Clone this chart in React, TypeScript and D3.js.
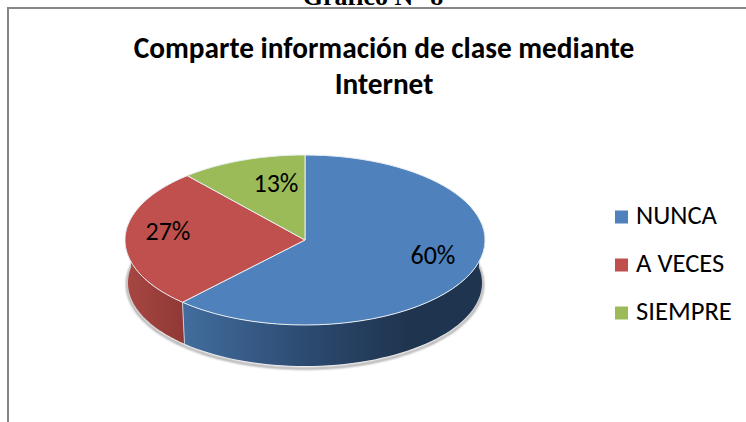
import React from "react";
import * as d3 from "d3";

const categories = ["NUNCA", "A VECES", "SIEMPRE"];
const values = [60, 27, 13];
const labels = ["60%", "27%", "13%"];
const colors = ["#4f81bd", "#c0504d", "#9bbb59"];
const titleLines = ["Comparte información de clase mediante", "Internet"];
const labelPos: [number, number][] = [[433, 258], [168, 234], [276, 186]];
const legendY = [217, 265, 313];

const font = "Carlito, Calibri, Lato, 'Open Sans', 'Noto Sans', sans-serif";
const cx = 305, cy = 240, rx = 180, ry = 85;
const bcy = 283, brx = 177, bry = 83;
const deg = Math.PI / 180;

const warp = (t: number) => t - 9.83 * deg * Math.sin(t) + 1.18 * deg * Math.sin(2 * t);
const pt = (t: number, x0 = cx, y0 = cy, a = rx, b = ry): [number, number] => {
  const w = warp(t);
  return [x0 + a * Math.sin(w), y0 - b * Math.cos(w)];
};
const steps = (a: number, b: number) => d3.range(0, 61).map(i => a + (b - a) * i / 60);

const line = d3.line<[number, number]>().x(d => d[0]).y(d => d[1]);

const topSlice = (a: number, b: number) =>
  line([[cx, cy], ...steps(a, b).map(t => pt(t))])! + "Z";

const wall = (a: number, b: number) => {
  const upper = steps(a, b).map(t => pt(t));
  const lower = steps(a, b).map(t => pt(t, cx, bcy, brx, bry)).reverse();
  return line([...upper, ...lower])! + "Z";
};

export default function App() {
  const arcs = d3.pie<number>().sort(null)(values);
  const wallStart = Math.PI / 2 - 0.02;
  const blue = arcs[0], red = arcs[1];
  const shadowPath = d3.range(0, 121).map(i => pt(Math.PI * 0.45 + (Math.PI * 1.1) * i / 120, cx, bcy + 1.5, brx + 1, bry + 1));
  return (
    <svg width={746} height={422} style={{ position: "absolute", left: 0, top: 0, background: "#fff" }}>
      <defs>
        <linearGradient id="bw" gradientUnits="userSpaceOnUse" x1={183} x2={485} y1={0} y2={0}>
          <stop offset="0" stopColor="#426d9e" />
          <stop offset="0.45" stopColor="#2a476c" />
          <stop offset="0.75" stopColor="#1f344e" />
          <stop offset="1" stopColor="#1f344e" />
        </linearGradient>
        <linearGradient id="rw" gradientUnits="userSpaceOnUse" x1={125} x2={186} y1={0} y2={0}>
          <stop offset="0" stopColor="#a84743" />
          <stop offset="1" stopColor="#8f3835" />
        </linearGradient>
        <filter id="sh" x="-10%" y="-10%" width="120%" height="120%">
          <feGaussianBlur stdDeviation="1" />
        </filter>
      </defs>
      <text x={373} y={5} textAnchor="middle" fontFamily="'Liberation Serif', serif" fontWeight="bold" fontSize={26} fill="#000">Gráfico N° 8</text>
      <path d="M8,422V8H746" fill="none" stroke="#868686" strokeWidth={2} />
      {titleLines.map((s, i) => (
        <text key={s} x={384} y={58 + i * 36} textAnchor="middle" fontFamily={font} fontWeight="bold" fontSize={29.3} fill="#000">{s}</text>
      ))}
      <path d={line(shadowPath)!} fill="none" stroke="#9a9a9a" strokeWidth={2} filter="url(#sh)" />
      <path d={wall(wallStart, blue.endAngle)} fill="url(#bw)" />
      <path d={wall(red.startAngle, Math.PI * 1.5 + 0.02)} fill="url(#rw)" />
      <path d={line([pt(blue.endAngle), pt(blue.endAngle, cx, bcy, brx, bry)])!} stroke="#c8ccd4" strokeWidth={1} fill="none" />
      {arcs.map((a, i) => (
        <path key={categories[i]} d={topSlice(a.startAngle, a.endAngle)} fill={colors[i]} stroke="#e8edf2" strokeWidth={1} strokeLinejoin="round" />
      ))}
      {labels.map((s, i) => (
        <text key={s} x={labelPos[i][0]} y={labelPos[i][1]} textAnchor="middle" dominantBaseline="middle" fontFamily={font} fontSize={26} fill="#000">{s}</text>
      ))}
      {categories.map((c, i) => (
        <g key={c}>
          <rect x={615} y={legendY[i] - 6.5} width={13} height={13} fill={colors[i]} />
          <text x={636} y={legendY[i] + 1} dominantBaseline="middle" fontFamily={font} fontSize={26.6} fill="#000">{c}</text>
        </g>
      ))}
    </svg>
  );
}
